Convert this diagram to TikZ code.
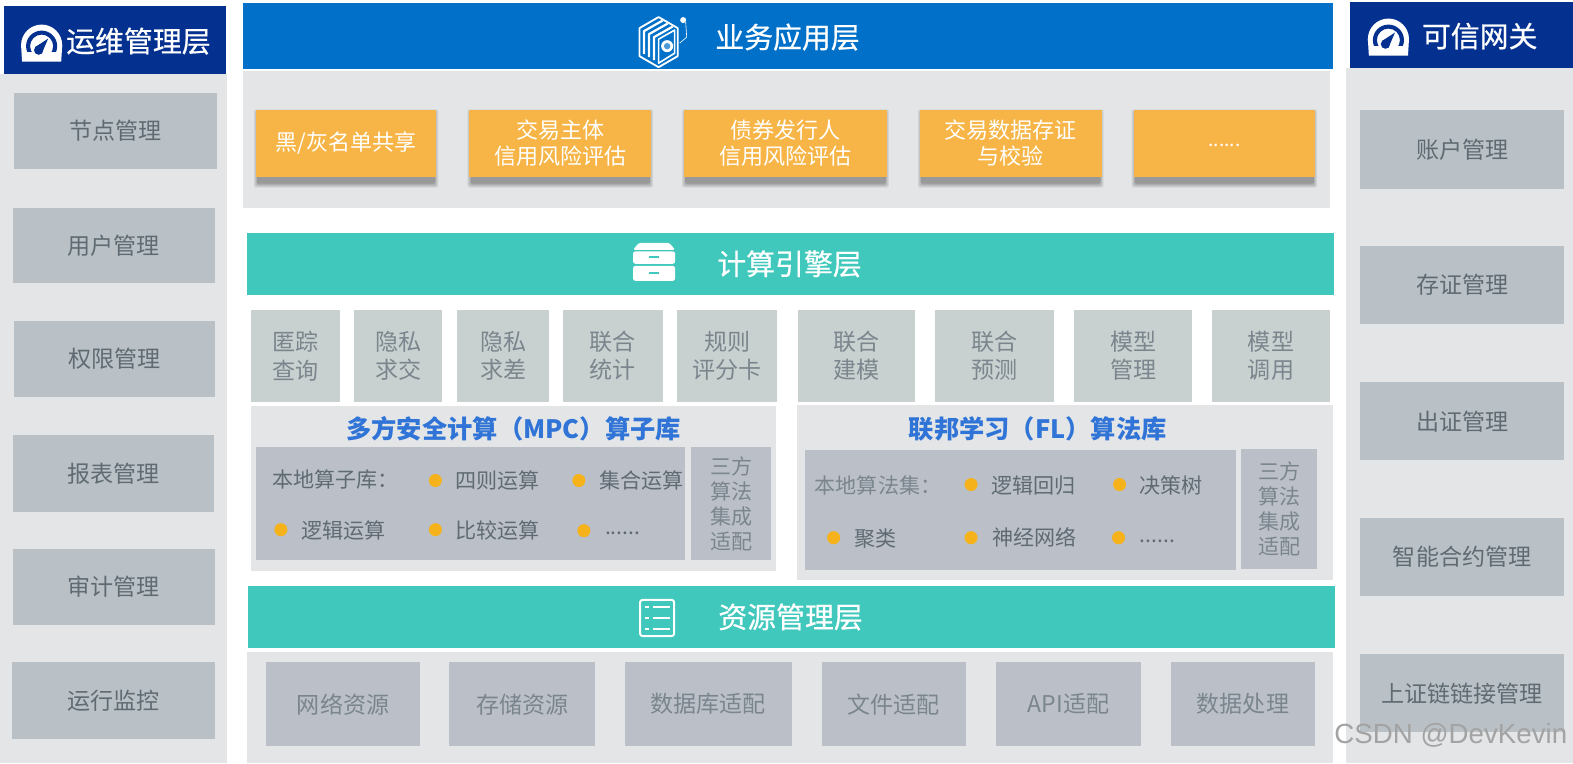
\documentclass[tikz,border=0pt]{standalone}
\usepackage{fontspec}
\setmainfont{Noto Sans CJK SC}
\newfontfamily\hdrfont[FakeBold=0.6]{Noto Sans CJK SC}
\newfontfamily\wmfont{Liberation Sans}
\definecolor{hdrnavy}{HTML}{04318F}
\definecolor{hdrblue}{HTML}{0170C8}
\definecolor{hdrteal}{HTML}{40C8BC}
\definecolor{panelbg}{HTML}{E3E5E7}
\definecolor{itembg}{HTML}{B9C1C6}
\definecolor{innerbg}{HTML}{BBC0C8}
\definecolor{cellbg}{HTML}{C9D1D0}
\definecolor{orangebg}{HTML}{F6B546}
\definecolor{txtdark}{HTML}{5F6A72}
\definecolor{txtgrey}{HTML}{7A858D}
\definecolor{titleblue}{HTML}{2F74D6}
\definecolor{dotc}{HTML}{F5B21A}
\newlength{\bw}\newlength{\bh}
% \bx{style}{name}{x0}{y0}{x1}{y1}{text}
\newcommand{\bx}[7]{%
  \pgfmathsetlength{\bw}{#5-#3}\pgfmathsetlength{\bh}{#6-#4}%
  \node[#1,minimum width=\bw,minimum height=\bh] (#2) at ({(#3+#5)/2},{(#4+#6)/2}) {#7};}
\newcommand{\gauge}[2]{%
  \begin{scope}[shift={(#1,#2)}]
    \begin{scope}
      \clip (-21,-21) rectangle (21,1);
      \fill[white] (0,0) circle (20.5);
    \end{scope}
    \fill[white] (-20.5,0) -- (20.5,0) -- (19.5,16.5) -- (-19.5,16.5) -- cycle;
    \begin{scope}
      \clip (-21,-21) rectangle (21,6);
      \fill[hdrnavy,even odd rule] (0,1) circle (15.5) (0,1) circle (11.5);
    \end{scope}
    \fill[hdrnavy] (-3,5) circle (4.6);
    \fill[hdrnavy] (6.5,-6.5) -- (-6.6,2) -- (0,8.6) -- cycle;
  \end{scope}}
\tikzset{
  x=1pt,y=-1pt,
  base/.style={inner sep=0pt,outer sep=0pt,align=center},
  panel/.style={base,fill=panelbg},
  hdrbar/.style={base},
  hdrtext/.style={inner sep=0pt,text=white,font=\hdrfont\fontsize{28.8}{32}\selectfont},
  sideitem/.style={base,fill=itembg,text=txtdark,font=\fontsize{23}{28}\selectfont},
  resitem/.style={base,fill=innerbg,text=txtgrey,font=\fontsize{23}{28}\selectfont},
  cellitem/.style={base,fill=cellbg,text=txtgrey,font=\fontsize{23}{28}\selectfont},
  orangeitem/.style={base,fill=orangebg,text=white,font=\fontsize{22}{26}\selectfont},
  innerbox/.style={base,fill=innerbg},
  libtitle/.style={inner sep=0pt,text=titleblue,font=\bfseries\fontsize{25.2}{28}\selectfont},
  libtext/.style={inner sep=0pt,anchor=west,text=txtdark,font=\fontsize{21}{25}\selectfont},
  bul/.style={circle,fill=dotc,inner sep=0pt,minimum size=13pt},
  iconline/.style={draw=white,line width=1.6pt,line join=round},
}
\begin{document}
\begin{tikzpicture}
\useasboundingbox (0,0) rectangle (1568,761);
\fill[white] (0,0) rectangle (1568,761);
% left column
\bx{panel}{lp}{0}{74}{226}{761}{}
\bx{hdrbar,fill=hdrnavy}{lh}{4}{6}{225}{74}{}
\node[hdrtext] (lht) at (138,41) {运维管理层};
\gauge{41.5}{45}
\bx{sideitem}{l1}{14}{93}{216}{168}{\raisebox{-1pt}{节点管理}}
\bx{sideitem}{l2}{13}{207}{214}{282}{用户管理}
\bx{sideitem}{l3}{14}{320}{214}{396}{\raisebox{-1pt}{权限管理}}
\bx{sideitem}{l4}{13}{434}{213}{510}{报表管理}
\bx{sideitem}{l5}{13}{547}{214}{623}{\raisebox{-1pt}{审计管理}}
\bx{sideitem}{l6}{12}{660}{214}{737}{运行监控}
% right column
\bx{panel}{rp}{1342}{68}{1568}{761}{}
\bx{hdrbar,fill=hdrnavy}{rh}{1346}{2}{1568}{68}{}
\node[hdrtext] (rht) at (1475,36) {可信网关};
\gauge{1384}{39}
\bx{sideitem}{r1}{1356}{110}{1559}{188}{\raisebox{-1pt}{账户管理}}
\bx{sideitem}{r2}{1356}{245}{1559}{323}{\raisebox{-1pt}{存证管理}}
\bx{sideitem}{r3}{1356}{381}{1559}{459}{出证管理}
\bx{sideitem}{r4}{1356}{516}{1559}{594}{智能合约管理}
\bx{sideitem}{r5}{1356}{652}{1559}{730}{上证链链接管理}
% business layer
\bx{hdrbar,fill=hdrblue}{th}{242}{3}{1329}{69}{}
\node[hdrtext] (tht) at (785,37) {业务应用层};
\bx{panel}{tp}{242}{71}{1326}{207}{}
\foreach \xa/\xb in {255/435,468/649,682/884,917/1098,1130/1311}{
  \foreach \gr in {0,1,2,3}{
    \fill[black,opacity=0.07,rounded corners=2pt]
      (\xa-\gr+1,112-\gr) rectangle (\xb+\gr-1,184+\gr);
  }
  \fill[black!42,opacity=.75,rounded corners=1.5pt] (\xa+1,170) rectangle (\xb-1,183);
}
\bx{orangeitem}{o1}{255}{110}{435}{176}{黑/灰名单共享}
\bx{orangeitem}{o2}{468}{110}{649}{176}{交易主体\\信用风险评估}
\bx{orangeitem}{o3}{682}{110}{884}{176}{债券发行人\\信用风险评估}
\bx{orangeitem}{o4}{917}{110}{1098}{176}{交易数据存证\\与校验}
\bx{orangeitem,font=\fontsize{19}{22}\selectfont}{o5}{1130}{110}{1311}{176}{\raisebox{-6pt}{......}}
% cube icon
\begin{scope}[shift={(656.5,42)}]
  \draw[iconline,line width=1.8pt] (0,-25) -- (19,-14) -- (19,14) -- (0,25) -- (-19,14) -- (-19,-14) -- cycle;
  \draw[iconline,line width=2.2pt] (-14.5,12) -- (-14.5,-11) -- (4,-21.5);
  \draw[iconline,line width=2.2pt] (-9.5,15) -- (-9.5,-8) -- (9,-18.5);
  \draw[iconline,line width=2.2pt] (-4.5,18) -- (-4.5,-5) -- (14,-15.5);
  \draw[iconline,line width=1.6pt] (0,-3) -- (16,-12) -- (16,11) -- (0,21) -- cycle;
  \fill[white] (8.5,4) circle (6);
  \fill[hdrblue!70] (8.5,4) circle (3.2);
  \fill[white] (24.5,-22) circle (3);
  \draw[white,line width=.6pt] (27,-20) -- (28,-5) -- (21,1);
\end{scope}
% compute layer
\bx{hdrbar,fill=hdrteal}{ch}{246}{232}{1330}{294}{}
\node[hdrtext] (cht) at (787,263) {计算引擎层};
\begin{scope}[shift={(652,262)}]
  \fill[white,rounded corners=1.5pt] (-15,-20) -- (15,-20) -- (21,-13) -- (-21,-13) -- cycle;
  \fill[white,rounded corners=2.5pt] (-21,-11.5) rectangle (21,1);
  \fill[white,rounded corners=2.5pt] (-21,3) rectangle (21,18);
  \fill[hdrteal] (-5,-6.5) rectangle (5,-4.5);
  \fill[hdrteal] (-5,9.5) rectangle (5,11.5);
\end{scope}
\bx{cellitem}{c1}{250}{309}{339}{401}{匿踪\\查询}
\bx{cellitem}{c2}{353}{309}{441}{401}{隐私\\求交}
\bx{cellitem}{c3}{456}{309}{547}{401}{隐私\\求差}
\bx{cellitem}{c4}{561}{309}{661}{401}{联合\\统计}
\bx{cellitem}{c5}{675}{309}{775}{401}{规则\\评分卡}
\bx{cellitem}{c6}{795}{309}{912}{401}{联合\\建模}
\bx{cellitem}{c7}{932}{309}{1051}{401}{联合\\预测}
\bx{cellitem}{c8}{1071}{309}{1188}{401}{模型\\管理}
\bx{cellitem}{c9}{1208}{309}{1326}{401}{模型\\调用}
% MPC
\bx{panel}{mp}{250}{405}{774}{569}{}
\node[libtitle] (mt) at (512,427) {多方安全计算（MPC）算子库};
\bx{innerbox}{mi}{255}{446}{683}{558}{}
\bx{innerbox,text=txtgrey,font=\fontsize{21}{25}\selectfont}{ms}{689}{446}{769}{558}{三方\\算法\\集成\\适配}
\node[libtext] (m0) at (271,478) {本地算子库：};
\node[bul] (md1) at (434,479) {}; \node[libtext] (m1) at (454,479) {四则运算};
\node[bul] (md2) at (577,479) {}; \node[libtext] (m2) at (597,479) {集合运算};
\node[bul] (md3) at (280,528) {}; \node[libtext] (m3) at (300,529) {逻辑运算};
\node[bul] (md4) at (434,528) {}; \node[libtext] (m4) at (454,529) {比较运算};
\node[bul] (md5) at (582,529) {}; \node[libtext] (m5) at (603,532) {......};
% FL
\bx{panel}{fp}{794}{404}{1329}{578}{}
\node[libtitle] (ft) at (1034.5,428) {联邦学习（FL）算法库};
\bx{innerbox}{fi}{802}{449}{1232}{568}{}
\bx{innerbox,text=txtgrey,font=\fontsize{21}{25}\selectfont}{fs}{1237}{448}{1313}{567}{三方\\算法\\集成\\适配}
\node[libtext,text=txtgrey] (f0) at (812,484) {本地算法集：};
\node[bul] (fd1) at (968,483) {}; \node[libtext] (f1) at (988,484) {逻辑回归};
\node[bul] (fd2) at (1116,483) {}; \node[libtext] (f2) at (1136,484) {决策树};
\node[bul] (fd3) at (831,536) {}; \node[libtext] (f3) at (852,537) {聚类};
\node[bul] (fd4) at (968,536) {}; \node[libtext] (f4) at (989,536) {神经网络};
\node[bul] (fd5) at (1115,536) {}; \node[libtext] (f5) at (1136,540) {......};
% resource layer
\bx{hdrbar,fill=hdrteal}{rsh}{247}{584}{1331}{646}{}
\node[hdrtext] (rst) at (788,615) {资源管理层};
\begin{scope}[shift={(655,616)}]
  \draw[iconline,rounded corners=2.5pt,line width=2pt] (-17,-18) rectangle (17,18);
  \foreach \yy in {-11,0,11}{
    \draw[white,line width=2pt] (-12,\yy) -- (-8,\yy);
    \draw[white,line width=2pt] (-4,\yy) -- (13,\yy);
  }
\end{scope}
\bx{panel}{bp}{246}{650}{1329}{761}{}
\bx{resitem}{b1}{265}{660}{419}{744}{网络资源}
\bx{resitem}{b2}{448}{660}{593}{744}{存储资源}
\bx{resitem}{b3}{623}{660}{789}{744}{数据库适配}
\bx{resitem}{b4}{819}{660}{963}{744}{文件适配}
\bx{resitem}{b5}{993}{660}{1137}{744}{API适配}
\bx{resitem}{b6}{1167}{660}{1311}{744}{数据处理}
% watermark
\node[inner sep=0pt,text=black!36,anchor=west,font=\wmfont\fontsize{27.6}{30}\selectfont] (wm) at (1330,733) {CSDN @DevKevin};
\end{tikzpicture}
\end{document}
